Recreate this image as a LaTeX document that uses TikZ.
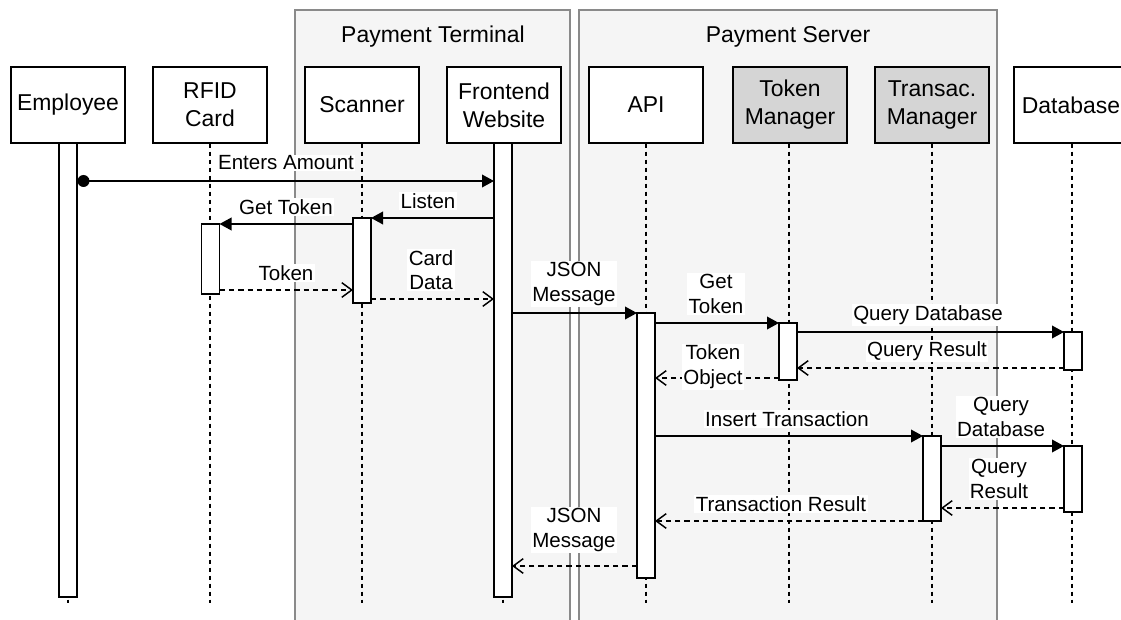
\documentclass[tikz,border=0pt]{standalone}
\usepackage{fontspec}
\setmainfont{Liberation Sans}
\usetikzlibrary{arrows.meta}
\definecolor{groupfill}{HTML}{F5F5F5}
\definecolor{groupline}{HTML}{8A8A8A}
\definecolor{mgrfill}{HTML}{D5D5D5}
\begin{document}
\begin{tikzpicture}[x=0.75pt,y=-0.75pt,
  font=\fontsize{15.4}{18.5}\selectfont,
  group/.style={draw=groupline,fill=groupfill,line width=1.1pt},
  grouptitle/.style={inner sep=0pt,font=\fontsize{17.2}{21}\selectfont},
  head/.style={draw,line width=1.1pt,fill=white,minimum width=85.5pt,minimum height=57pt,
    inner sep=2pt,align=center,font=\fontsize{17.2}{21}\selectfont},
  mgr/.style={head,fill=mgrfill},
  life/.style={line width=1.1pt,dash pattern=on 3pt off 3pt},
  bar/.style={draw,line width=1.1pt,fill=white,minimum width=13.5pt,inner sep=0pt,outer sep=0pt},
  call/.style={line width=1.1pt,-{Triangle[length=9pt,width=9.5pt]}},
  reply/.style={line width=1.1pt,dash pattern=on 4pt off 3pt,
    -{Straight Barb[length=7.5pt,width=11pt,line width=1.1pt]}},
  lbl/.style={fill=white,inner sep=1pt,align=center},
]
\useasboundingbox (0,0) rectangle (1121,620);

% system boundaries
\draw[group] (295,10) rectangle (570,630);
\draw[group] (579,10) rectangle (997,630);
\node[grouptitle] (termTitle) at (433,37) {Payment Terminal};
\node[grouptitle] (servTitle) at (788,37) {Payment Server};

% participants
\node[head] (emp)  at (68,105)   {Employee};
\node[head] (rfid) at (210,105)  {RFID\\Card};
\node[head] (scan) at (362,105)  {Scanner};
\node[head] (fe)   at (504,105)  {Frontend\\Website};
\node[head] (api)  at (646,105)  {API};
\node[mgr]  (tok)  at (790,105)  {Token\\Manager};
\node[mgr]  (trn)  at (932,105)  {Transac.\\Manager};
\node[head] (db)   at (1071,105) {Database};

% lifelines
\foreach \p/\xx in {emp/68,rfid/210,scan/362,fe/503,api/646,tok/789,trn/932,db/1072}
  \draw[life] (\p.south -| \xx,0) -- (\xx,603);

% activation bars
\node[bar,minimum height=340.5pt] (empBar)  at (68,370)    {};
\node[bar,minimum height=52.5pt]  (rfidBar) at (210.5,259) {};
\node[bar,minimum height=63.75pt] (scanBar) at (362,260.5) {};
\node[bar,minimum height=340.5pt] (feBar)   at (503,370)   {};
\node[bar,minimum height=198.75pt](apiBar)  at (646,445.5) {};
\node[bar,minimum height=42.75pt] (tokBar)  at (788,351.5) {};
\node[bar,minimum height=63.75pt] (trnBar)  at (932,478.5) {};
\node[bar,minimum height=28.5pt]  (dbBar1)  at (1073,351)  {};
\node[bar,minimum height=49.5pt]  (dbBar2)  at (1073,479)  {};

% messages
\coordinate (dot) at (83.5,181);
\draw[call] (dot) -- (feBar.west |- dot);
\fill (dot) circle (6);
\node[lbl] (mEnter) at (286,163) {Enters Amount};

\draw[call] (feBar.west |- 0,218) -- (scanBar.east |- 0,218);
\node[lbl] (mListen) at (428,201) {Listen};

\draw[call] (scanBar.west |- 0,224) -- (rfidBar.east |- 0,224);
\node[lbl] (mGet) at (286,207) {Get Token};

\draw[reply] (rfidBar.east |- 0,290) -- (scanBar.west |- 0,290);
\node[lbl] (mToken) at (286,273) {Token};

\draw[reply] (scanBar.east |- 0,299) -- (feBar.west |- 0,299);
\node[lbl] (mCard) at (431,270) {Card\\Data};

\draw[call] (feBar.east |- 0,313) -- (apiBar.west |- 0,313);
\node[lbl] (mJson) at (574,284) {JSON\\Message};

\draw[call] (apiBar.east |- 0,323) -- (tokBar.west |- 0,323);
\node[lbl] (mGetTok) at (716,294) {Get\\Token};

\draw[call] (tokBar.east |- 0,332) -- (dbBar1.west |- 0,332);
\node[lbl] (mQuery) at (928,315) {Query Database};

\draw[reply] (dbBar1.west |- 0,368) -- (tokBar.east |- 0,368);
\node[lbl] (mResult) at (927,351) {Query Result};

\draw[reply] (tokBar.west |- 0,378) -- (apiBar.east |- 0,378);
\node[lbl] (mObj) at (713,367) {Token\\Object};

\draw[call] (apiBar.east |- 0,436) -- (trnBar.west |- 0,436);
\node[lbl] (mInsert) at (787,419) {Insert Transaction};

\draw[call] (trnBar.east |- 0,446) -- (dbBar2.west |- 0,446);
\node[lbl] (mQuery2) at (1001,417) {Query\\Database};

\draw[reply] (dbBar2.west |- 0,508) -- (trnBar.east |- 0,508);
\node[lbl] (mResult2) at (999,479) {Query\\Result};

\draw[reply] (trnBar.west |- 0,521) -- (apiBar.east |- 0,521);
\node[lbl] (mTrans) at (781,504) {Transaction Result};

\draw[reply] (apiBar.west |- 0,566) -- (feBar.east |- 0,566);
\node[lbl] (mJson2) at (574,530) {JSON\\Message};
\end{tikzpicture}
\end{document}
